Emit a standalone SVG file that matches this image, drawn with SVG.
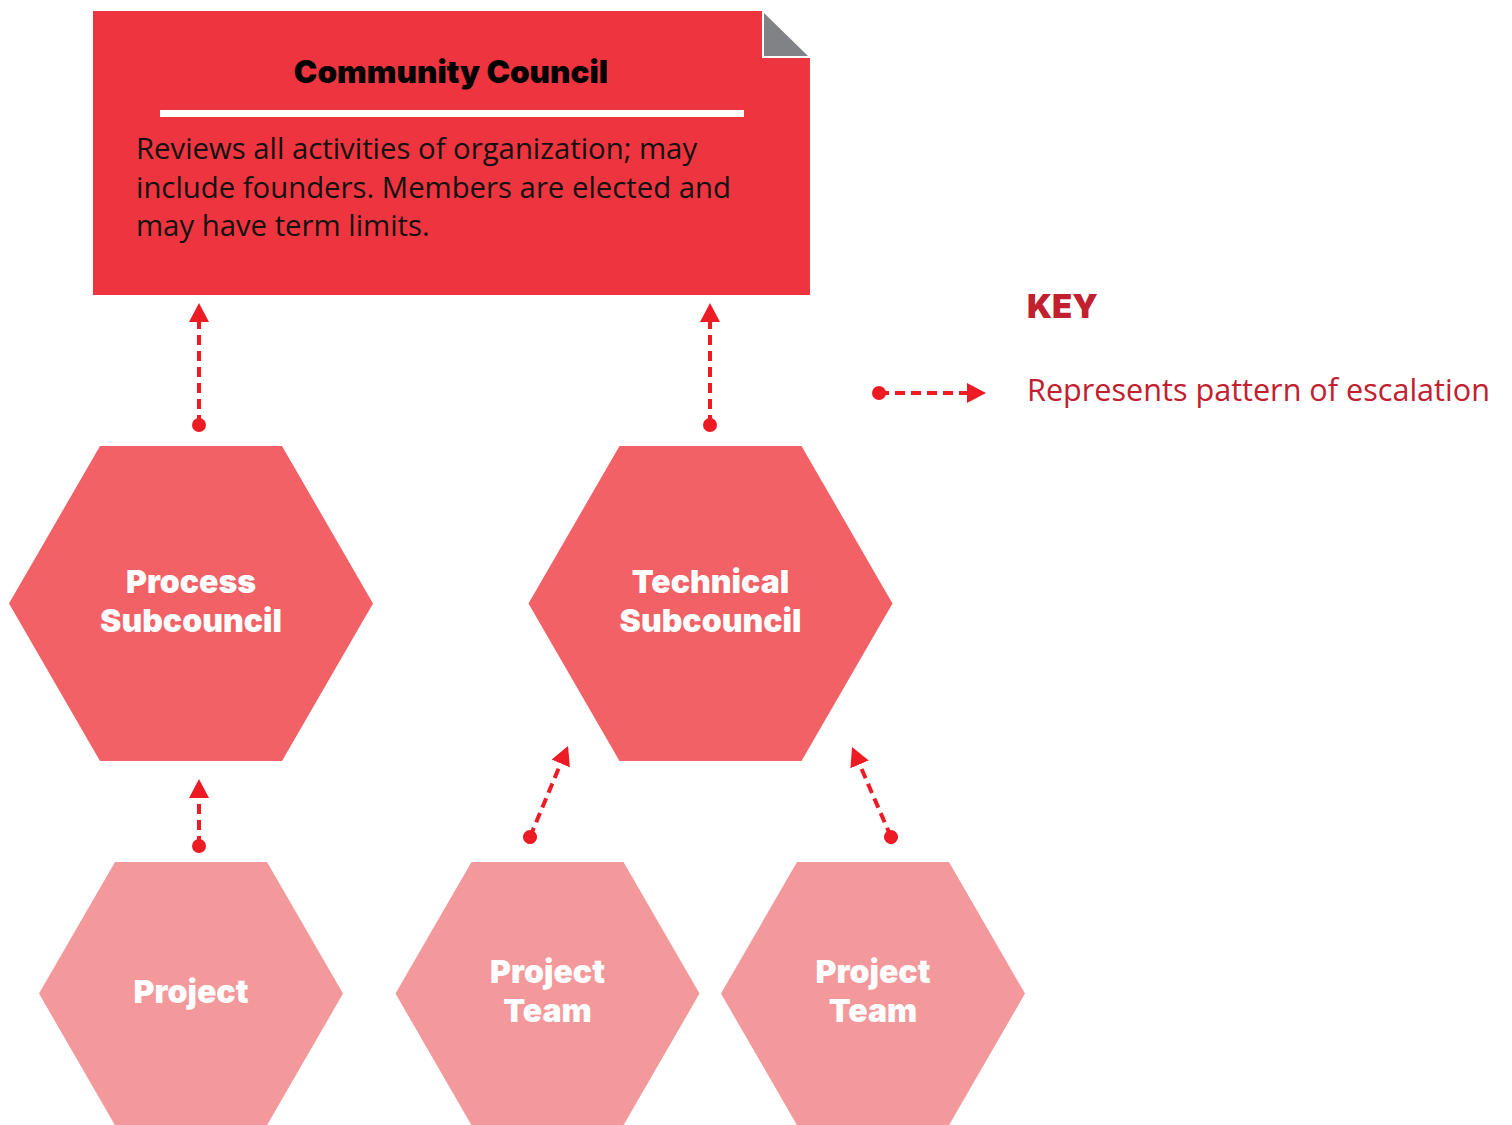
<svg xmlns="http://www.w3.org/2000/svg" width="1512" height="1125" viewBox="0 0 1512 1125">
<style>
.hex-label{font-family:Inter,"Liberation Sans",sans-serif;font-weight:900;font-size:32px;fill:#ffffff;text-anchor:middle}
.body{font-family:"Open Sans","Liberation Sans",sans-serif;font-size:29.3px;fill:#111111}
.title{font-family:Inter,"Liberation Sans",sans-serif;font-weight:900;font-size:31.5px;fill:#000000;text-anchor:middle}
.conn{fill:none;stroke:#ed1c24;stroke-width:4;stroke-dasharray:10 6;marker-start:url(#dot);marker-end:url(#arrow)}
.key-title{font-family:Inter,"Liberation Sans",sans-serif;font-weight:900;font-size:33px;fill:#c1202f}
.key-text{font-family:"Open Sans","Liberation Sans",sans-serif;font-size:30.6px;fill:#c1202f}
</style>
<defs>
<marker id="arrow" viewBox="0 -10 19 20" markerWidth="19" markerHeight="20" refX="0" refY="0" orient="auto" markerUnits="userSpaceOnUse">
<path d="M0,-10 L19,0 L0,10 Z" fill="#ed1c24"/>
</marker>
<marker id="dot" viewBox="-7 -7 14 14" markerWidth="14" markerHeight="14" refX="0" refY="0" orient="auto" markerUnits="userSpaceOnUse">
<circle cx="0" cy="0" r="7" fill="#ed1c24"/>
</marker>
</defs>
<rect width="1512" height="1125" fill="#ffffff"/>

<g id="community-council">
<path d="M93,11 H762 V58 H810 V295 H93 Z" fill="#ee343f"/>
<path d="M764,13 L808,56 L764,56 Z" fill="#808285"/>
<text class="title" x="451" y="83">Community Council</text>
<rect x="160" y="110" width="584" height="7" fill="#ffffff"/>
<text class="body" x="136" y="159">Reviews all activities of organization; may</text>
<text class="body" x="136" y="198">include founders. Members are elected and</text>
<text class="body" x="136" y="236">may have term limits.</text>
</g>

<g id="process-subcouncil">
<polygon points="100,446 282,446 373,603.5 282,761 100,761 9,603.5" fill="#f16166"/>
<text class="hex-label" x="191" y="593">Process</text>
<text class="hex-label" x="191" y="632">Subcouncil</text>
</g>

<g id="technical-subcouncil">
<polygon points="619.5,446 801.5,446 892.5,603.5 801.5,761 619.5,761 528.5,603.5" fill="#f16166"/>
<text class="hex-label" x="710.5" y="593">Technical</text>
<text class="hex-label" x="710.5" y="632">Subcouncil</text>
</g>

<g id="project">
<polygon points="115,862 267,862 343,993.6 267,1125.2 115,1125.2 39,993.6" fill="#f4999b"/>
<text class="hex-label" x="191" y="1003">Project</text>
</g>

<g id="project-team-1">
<polygon points="471.5,862 623.5,862 699.5,993.6 623.5,1125.2 471.5,1125.2 395.5,993.6" fill="#f4999b"/>
<text class="hex-label" x="547.5" y="983">Project</text>
<text class="hex-label" x="547.5" y="1022">Team</text>
</g>

<g id="project-team-2">
<polygon points="797,862 949,862 1025,993.6 949,1125.2 797,1125.2 721,993.6" fill="#f4999b"/>
<text class="hex-label" x="873" y="983">Project</text>
<text class="hex-label" x="873" y="1022">Team</text>
</g>

<g id="connectors">
<line class="conn" x1="199" y1="425" x2="199" y2="322"/>
<line class="conn" x1="710" y1="425" x2="710" y2="322"/>
<line class="conn" x1="199" y1="846" x2="199" y2="798"/>
<line class="conn" x1="530" y1="837" x2="560.7" y2="763.5"/>
<line class="conn" x1="891" y1="837" x2="859.6" y2="764.4"/>
</g>

<g id="key">
<text class="key-title" x="1027" y="318">KEY</text>
<line class="conn" x1="879" y1="393" x2="967" y2="393"/>
<text class="key-text" x="1027" y="401">Represents pattern of escalation</text>
</g>
</svg>
